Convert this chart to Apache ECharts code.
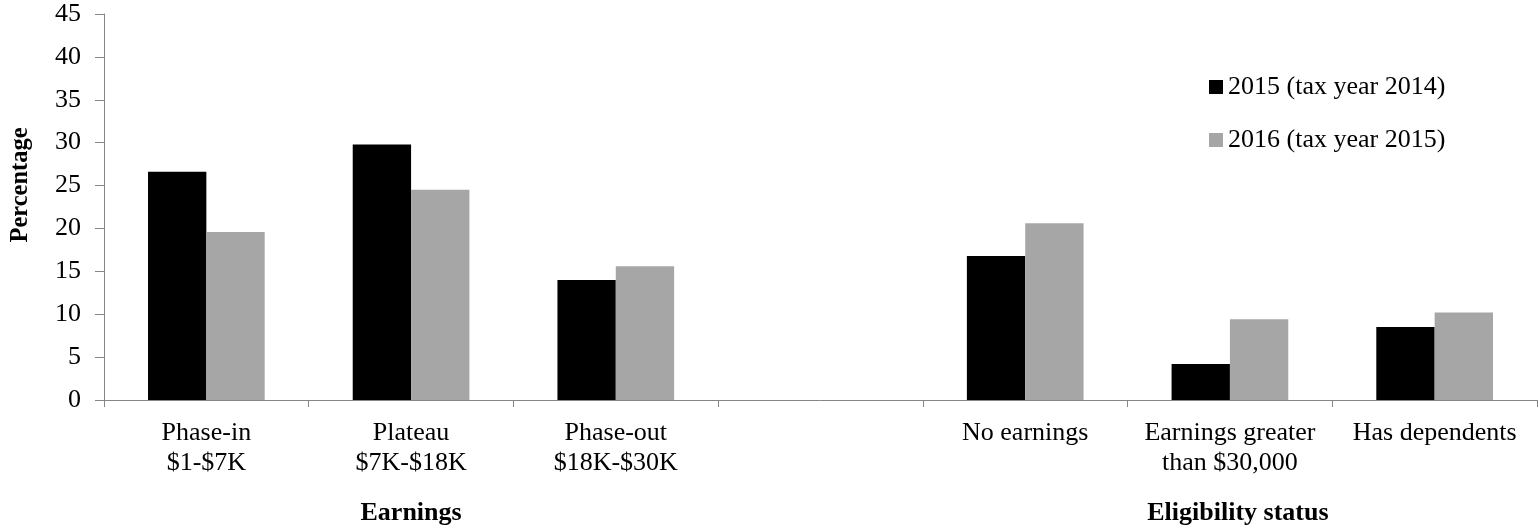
<!DOCTYPE html>
<html>
<head>
<meta charset="utf-8">
<script src="https://cdn.jsdelivr.net/npm/echarts@6/dist/echarts.min.js"></script>
<style>
  html, body { margin: 0; padding: 0; background: #ffffff; }
  #chart { width: 1539px; height: 528px; }
</style>
</head>
<body>
<div id="chart"></div>
<script>
// Category slots along the x axis; the empty slot separates the two groups.
const categories = [
  'Phase-in\n$1-$7K',
  'Plateau\n$7K-$18K',
  'Phase-out\n$18K-$30K',
  '',
  'No earnings',
  'Earnings greater\nthan $30,000',
  'Has dependents'
];
// Group titles shown under the middle category of each group.
const groupLabels = ['', 'Earnings', '', '', '', 'Eligibility status', ''];

const seriesNames = ['2015 (tax year 2014)', '2016 (tax year 2015)'];
const values2015 = [26.6, 29.8, 14.0, null, 16.8, 4.2, 8.5];
const values2016 = [19.6, 24.5, 15.6, null, 20.6, 9.4, 10.2];
const yTicks = { min: 0, max: 45, interval: 5 };

const FONT = '"Liberation Serif", "Times New Roman", serif';
const AXIS_GREY = '#868686';

const chart = echarts.init(document.getElementById('chart'), null, { renderer: 'canvas' });

chart.setOption({
  animation: false,
  backgroundColor: '#ffffff',
  textStyle: { fontFamily: FONT, color: '#000000' },
  grid: { left: 97, right: 2, top: 14, bottom: 128, containLabel: false },
  legend: {
    orient: 'vertical',
    left: 1204,
    top: 69,
    icon: 'rect',
    itemWidth: 14,
    itemHeight: 14,
    itemGap: 27,
    textStyle: { fontFamily: FONT, fontSize: 26, color: '#000000', lineHeight: 26 },
    data: seriesNames
  },
  xAxis: [
    {
      type: 'category',
      data: categories,
      position: 'bottom',
      axisLine: { show: true, lineStyle: { color: AXIS_GREY, width: 1 } },
      axisTick: { show: true, alignWithLabel: false, length: 7, lineStyle: { color: AXIS_GREY } },
      axisLabel: {
        interval: 0,
        margin: 18,
        fontFamily: FONT,
        fontSize: 26,
        lineHeight: 30,
        color: '#000000'
      },
      splitLine: { show: false }
    },
    {
      type: 'category',
      data: groupLabels,
      position: 'bottom',
      axisLine: { show: false },
      axisTick: { show: false },
      axisLabel: {
        interval: 0,
        margin: 98,
        fontFamily: FONT,
        fontSize: 26,
        fontWeight: 'bold',
        lineHeight: 30,
        color: '#000000',
        formatter: function (value) {
          return value === 'Eligibility status' ? '{shift|' + value + '}' : value;
        },
        rich: {
          shift: {
            fontFamily: FONT,
            fontSize: 26,
            fontWeight: 'bold',
            lineHeight: 30,
            color: '#000000',
            padding: [0, 0, 0, 16]
          }
        }
      },
      splitLine: { show: false }
    }
  ],
  yAxis: {
    type: 'value',
    min: yTicks.min,
    max: yTicks.max,
    interval: yTicks.interval,
    name: 'Percentage',
    nameLocation: 'middle',
    nameGap: 71,
    nameRotate: 90,
    nameTextStyle: {
      fontFamily: FONT,
      fontSize: 24.5,
      fontWeight: 'bold',
      color: '#000000',
      padding: [0, 0, 0, 44]
    },
    axisLine: { show: true, lineStyle: { color: AXIS_GREY, width: 1 } },
    axisTick: { show: true, inside: false, length: 9, lineStyle: { color: AXIS_GREY } },
    axisLabel: { margin: 23, fontFamily: FONT, fontSize: 26, color: '#000000' },
    splitLine: { show: false }
  },
  series: [
    {
      name: seriesNames[0],
      type: 'bar',
      xAxisIndex: 0,
      data: values2015,
      barWidth: '28.5%',
      barGap: '0%',
      itemStyle: { color: '#000000' }
    },
    {
      name: seriesNames[1],
      type: 'bar',
      xAxisIndex: 0,
      data: values2016,
      barWidth: '28.5%',
      barGap: '0%',
      itemStyle: { color: '#a6a6a6' }
    }
  ]
});
</script>
</body>
</html>
